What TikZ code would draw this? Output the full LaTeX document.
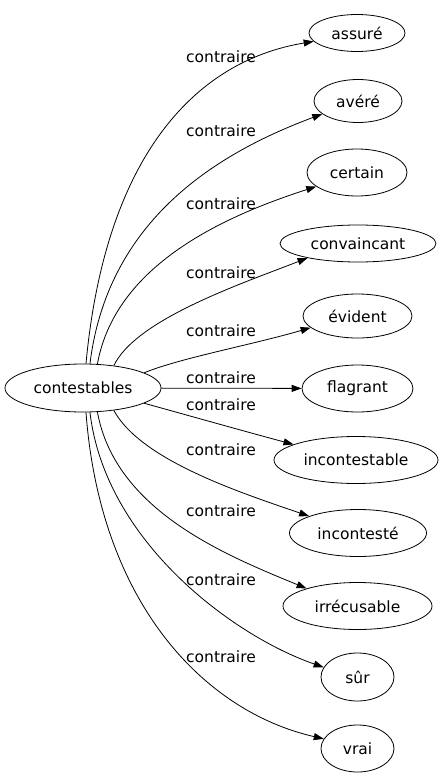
\documentclass[tikz,border=0pt]{standalone}
\usepackage{fontspec}
\setmainfont{DejaVu Sans}
\usetikzlibrary{arrows.meta,shapes.geometric}
\begin{document}
\begin{tikzpicture}[x=1pt,y=-1pt,
  every node/.style={font=\fontsize{15.5}{18}\selectfont, text=black},
  nd/.style={ellipse, draw, line width=0.8pt, inner sep=0pt},
  lbl/.style={inner sep=0pt},
  edge/.style={line width=0.8pt, -{Triangle[length=10pt,width=7pt]}}]
\useasboundingbox (0,0) rectangle (446,779);
\node[nd, minimum width=156pt, minimum height=48pt] (c) at (83,388) {contestables};
\node[nd, minimum width=96pt,  minimum height=37pt] (t1) at (357,33) {assuré};
\node[nd, minimum width=88pt,  minimum height=43pt] (t2) at (358,101) {avéré};
\node[nd, minimum width=100pt, minimum height=47pt] (t3) at (357,172.5) {certain};
\node[nd, minimum width=156pt, minimum height=37pt] (t4) at (358,243.5) {convaincant};
\node[nd, minimum width=109pt, minimum height=44pt] (t5) at (357.5,316) {évident};
\node[nd, minimum width=111pt, minimum height=47pt] (t6) at (357.5,388.5) {flagrant};
\node[nd, minimum width=164pt, minimum height=47pt] (t7) at (356,460) {incontestable};
\node[nd, minimum width=137pt, minimum height=47pt] (t8) at (358,533) {incontesté};
\node[nd, minimum width=149pt, minimum height=47pt] (t9) at (357.5,606) {irrécusable};
\node[nd, minimum width=73pt,  minimum height=48pt] (t10) at (357.5,677) {sûr};
\node[nd, minimum width=73pt,  minimum height=47pt] (t11) at (357.5,748.5) {vrai};

\node[lbl] (l1) at (221,57) {contraire};
\node[lbl] (l2) at (221,131) {contraire};
\node[lbl] (l3) at (221,204) {contraire};
\node[lbl] (l4) at (221,273) {contraire};
\node[lbl] (l5) at (221,331) {contraire};
\node[lbl] (l6) at (221,378) {contraire};
\node[lbl] (l7) at (221,405) {contraire};
\node[lbl] (l8) at (221,450) {contraire};
\node[lbl] (l9) at (221,511) {contraire};
\node[lbl] (l10) at (221,580) {contraire};
\node[lbl] (l11) at (221,657) {contraire};

\draw[edge] (c.83) .. controls +(19,-204) and +(-121,20) .. (t1.191);
\draw[edge] (c.74) .. controls +(18,-146) and +(-102,38) .. (t2.200);
\draw[edge] (c.59) .. controls +(18,-100) and +(-90,29) .. (t3.199);
\draw[edge] (c.36) .. controls +(22,-46) and +(-67,26) .. (t4.196);
\draw[edge] (c.14) .. controls +(37,-15) and +(-58,17) .. (t5.194);
\draw[edge] (c) -- (t6);
\draw[edge] (c.-14) .. controls +(47,13) and +(-45,-12) .. (t7.166);
\draw[edge] (c.-36) .. controls +(27,50) and +(-67,-23) .. (t8.161);
\draw[edge] (c.-59) .. controls +(18,99) and +(-80,-33) .. (t9.161);
\draw[edge] (c.-74) .. controls +(15,128) and +(-92,-32) .. (t10.164);
\draw[edge] (c.-83) .. controls +(14,188) and +(-122,-28) .. (t11.164);
\end{tikzpicture}
\end{document}
